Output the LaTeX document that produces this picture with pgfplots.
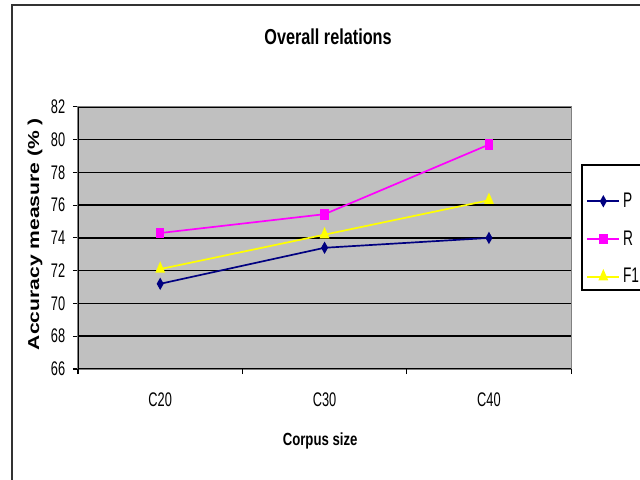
\documentclass[border=0pt]{standalone}
\usepackage{fontspec}
\setmainfont{Liberation Sans}[FakeStretch=0.75]
\newfontfamily\tickfont{Liberation Sans}[FakeStretch=0.65]
\usepackage{graphicx}
\usepackage{pgfplots}
\pgfplotsset{compat=1.18}

\definecolor{pnavy}{HTML}{000080}
\definecolor{rmag}{HTML}{FF00FF}
\definecolor{fyel}{HTML}{FFFF00}
\definecolor{plotgray}{HTML}{C0C0C0}
\definecolor{framegray}{HTML}{808080}

\begin{document}
\begin{tikzpicture}[x=0.025cm,y=0.025cm]
\useasboundingbox (0,0) rectangle (640,480);
\fill[white] (0,0) rectangle (640,480);
% outer chart frame (top and left visible)
\draw[line width=1.4pt, black!80] (12,-5) -- (12,475) -- (650,475);
% legend box
\draw[fill=white, line width=0.8pt] (582,315) rectangle (660,190);

\begin{axis}[
    at={(1.95cm,2.775cm)}, anchor=south west,
    width=12.325cm, height=6.55cm, scale only axis,
    xmin=0.5, xmax=3.5, ymin=66, ymax=82,
    xtick={1,2,3}, xticklabels={C20,C30,C40},
    ytick={66,68,...,82},
    xtick pos=bottom, ytick pos=left,
    tick align=outside,
    major tick length=3.6pt,
    xtick style={draw=none},
    ytick style={draw=black, line width=0.8pt},
    extra x ticks={0.5,1.5,2.5,3.5},
    extra x tick labels={},
    extra x tick style={xtick style={draw=black, line width=0.8pt}, major tick length=3.6pt},
    ymajorgrids,
    major grid style={black, line width=1.1pt},
    axis line style={framegray, line width=0.8pt},
    axis background/.style={fill=plotgray},
    /pgf/number format/assume math mode=true,
    ticklabel style={font=\tickfont\fontsize{14}{16}\selectfont},
    xticklabel style={yshift=-10pt},
    yticklabel style={xshift=-2pt},
    title={\textbf{Overall relations}},
    title style={at={(axis description cs:0.507,1.236)}, anchor=center,
                 font=\fontsize{15.4}{18}\selectfont},
    xlabel={\textbf{Corpus size}},
    xlabel style={at={(axis description cs:0.491,-0.275)}, anchor=center,
                  font=\fontsize{12.5}{14}\selectfont},
    ylabel={\scalebox{1}[0.75]{\fontspec{Liberation Sans}\bfseries Accuracy measure (\% )}},
    ylabel style={at={(axis description cs:-0.0872,0.515)}, anchor=center,
                  font=\fontsize{15}{17}\selectfont},
    legend image code/.code={\draw[mark repeat=2,mark phase=2]
        plot coordinates {(0cm,0cm) (0.4cm,0cm) (0.8cm,0cm)};},
    legend style={at={(axis description cs:1.022,0.496)}, anchor=west,
                  draw=none, fill=none, row sep=11pt,
                  font=\tickfont\fontsize{15}{17}\selectfont},
    legend cell align=left,
]
\addplot[pnavy, line width=1.2pt, mark=diamond*, mark size=3.2pt,
         mark options={xscale=0.75}]
    coordinates {(1,71.2) (2,73.4) (3,74.0)};
\addlegendentry{P}
\addplot[rmag, line width=1.2pt, mark=square*, mark size=3.2pt,
         mark options={xscale=0.75}]
    coordinates {(1,74.3) (2,75.45) (3,79.7)};
\addlegendentry{R}
\addplot[fyel, line width=1.2pt, mark=triangle*, mark size=4pt,
         mark options={xscale=0.75}]
    coordinates {(1,72.1) (2,74.2) (3,76.3)};
\addlegendentry{F1}
\draw[black, line width=1pt] (rel axis cs:0,1) -- (rel axis cs:0,0) -- (rel axis cs:1,0);
\end{axis}
\end{tikzpicture}
\end{document}
